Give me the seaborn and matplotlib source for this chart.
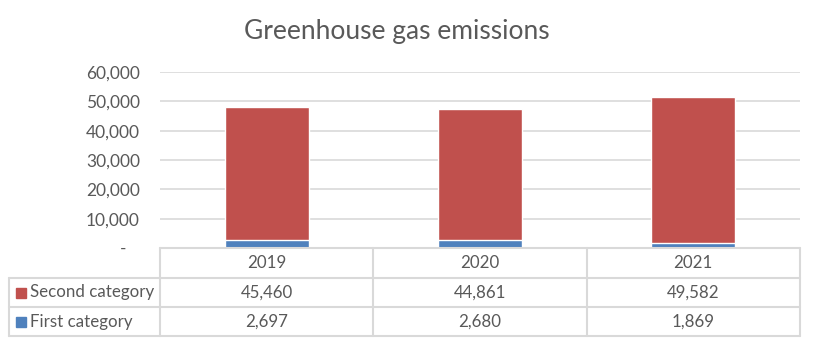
import matplotlib
matplotlib.use("Agg")
import matplotlib.pyplot as plt
import seaborn as sns
import pandas as pd
from matplotlib.lines import Line2D
from matplotlib.patches import Rectangle

years = ["2019", "2020", "2021"]
first_category = [2697, 2680, 1869]
second_category = [45460, 44861, 49582]
series_names = ["Second category", "First category"]
yticks = [0, 10000, 20000, 30000, 40000, 50000, 60000]
ytick_labels = ["-   ", "10,000", "20,000", "30,000", "40,000", "50,000", "60,000"]
title = "Greenhouse gas emissions"

RED = "#C0504D"
BLUE = "#4F81BD"
GRID = "#D9D9D9"
TEXT = "#595959"

sns.set_theme(style="white")
plt.rcParams["font.family"] = ["Lato", "DejaVu Sans"]

W, H = 813, 345
fig = plt.figure(figsize=(W / 100, H / 100), dpi=100)

def fx(px):
    return px / W

def fy(py):
    return 1 - py / H

x0, x1 = 160, 800
y_top, y_bot = 72, 248
ax = fig.add_axes([fx(x0), fy(y_bot), fx(x1) - fx(x0), fy(y_top) - fy(y_bot)])

df = pd.DataFrame({
    "year": years,
    "first": first_category,
    "total": [a + b for a, b in zip(first_category, second_category)],
})

sns.barplot(data=df, x="year", y="total", color=RED, width=0.395, ax=ax,
            saturation=1, order=years)
sns.barplot(data=df, x="year", y="first", color=BLUE, width=0.395, ax=ax,
            saturation=1, order=years)

ax.set_xlim(-0.5, len(years) - 0.5)
ax.set_ylim(0, 60000)
ax.set_yticks(yticks)
ax.set_yticklabels(ytick_labels, color=TEXT, fontsize=12.5)
ax.tick_params(axis="y", length=0, pad=14.5)
ax.set_xticks([])
ax.set_xlabel("")
ax.set_ylabel("")
for s in ax.spines.values():
    s.set_visible(False)
ax.grid(False)
for t in yticks[1:]:
    ax.axhline(t, color=GRID, lw=1.2, zorder=0)

fig.text(fx(397), fy(32), title, ha="center", va="center", fontsize=19, color=TEXT)

# Data table
col_edges = [x0 + (x1 - x0) * i / len(years) for i in range(len(years) + 1)]
row_edges = [248, 278, 307, 336]
left_edge = 9

def hline(y, xa, xb):
    fig.add_artist(Line2D([fx(xa), fx(xb)], [fy(y), fy(y)], color=GRID, lw=1.5))

def vline(x, ya, yb):
    fig.add_artist(Line2D([fx(x), fx(x)], [fy(ya), fy(yb)], color=GRID, lw=1.5))

hline(row_edges[0], x0, x1)
for y in row_edges[1:]:
    hline(y, left_edge, x1)
for x in col_edges:
    vline(x, row_edges[0], row_edges[-1])
vline(left_edge, row_edges[1], row_edges[-1])

# header row
for i, yr in enumerate(years):
    cx = (col_edges[i] + col_edges[i + 1]) / 2
    fig.text(fx(cx), fy((row_edges[0] + row_edges[1]) / 2), yr, ha="center",
             va="center", fontsize=12.2, color=TEXT)

rows = [(series_names[0], second_category, RED), (series_names[1], first_category, BLUE)]
for r, (name, vals, col) in enumerate(rows):
    cy = (row_edges[r + 1] + row_edges[r + 2]) / 2
    fig.add_artist(Rectangle((fx(16), fy(cy + 5)), fx(10), fy(0) - fy(10),
                             color=col, transform=fig.transFigure))
    fig.text(fx(30), fy(cy), name, ha="left", va="center", fontsize=12.2, color=TEXT)
    for i, v in enumerate(vals):
        cx = (col_edges[i] + col_edges[i + 1]) / 2
        fig.text(fx(cx), fy(cy), f"{v:,}", ha="center", va="center",
                 fontsize=12.2, color=TEXT)

fig.savefig("out.png", dpi=100, facecolor="white")
